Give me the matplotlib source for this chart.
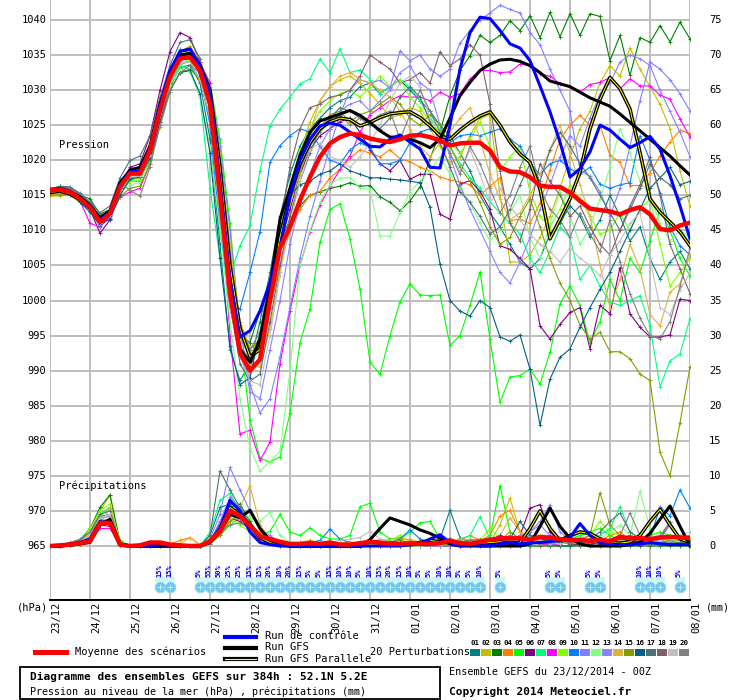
import matplotlib
matplotlib.use('Agg')
import matplotlib.pyplot as plt
from matplotlib.patches import Rectangle

plt.rcParams['font.family'] = ['DejaVu Sans Mono', 'DejaVu Sans']

# ---- axes labels ----
dates = ['23/12', '24/12', '25/12', '26/12', '27/12', '28/12', '29/12', '30/12', '31/12',
         '01/01', '02/01', '03/01', '04/01', '05/01', '06/01', '07/01', '08/01']
pres_ticks = [965, 970, 975, 980, 985, 990, 995, 1000, 1005, 1010, 1015, 1020, 1025, 1030, 1035, 1040]
rr_ticks = [0, 5, 10, 15, 20, 25, 30, 35, 40, 45, 50, 55, 60, 65, 70, 75]

# ---- pression (hPa), pas de 6h, 65 echeances ----
moyenne = [1015.7, 1015.8, 1015.5, 1014.5, 1013.3, 1011.2, 1012.4, 1016.2, 1018.1, 1018.1, 1021.4, 1027.1, 1031.9,
           1034.5, 1034.7, 1032.8, 1028.0, 1015.0, 1001.0, 992.5, 990.0, 991.6, 1000.0, 1007.5, 1010.5, 1014.3,
           1017.6, 1020.5, 1022.4, 1023.3, 1023.8, 1023.6, 1023.1, 1022.8, 1022.6, 1023.0, 1023.5, 1023.6, 1023.3,
           1022.8, 1022.1, 1022.4, 1022.5, 1022.5, 1021.4, 1019.0, 1018.4, 1018.3, 1017.6, 1016.4, 1016.2, 1016.2,
           1015.4, 1014.2, 1013.1, 1012.9, 1012.7, 1012.3, 1012.9, 1013.3, 1012.3, 1010.2, 1010.0, 1010.7, 1011.1]
controle = [1015.8, 1016.0, 1015.6, 1014.6, 1013.5, 1011.5, 1012.6, 1016.5, 1018.4, 1018.4, 1021.8, 1027.8, 1032.8,
            1035.5, 1035.9, 1033.5, 1029.5, 1017.0, 1003.0, 994.8, 995.7, 998.5, 1002.6, 1007.5, 1015.0, 1020.0,
            1023.0, 1024.9, 1025.3, 1025.0, 1024.0, 1023.0, 1022.0, 1021.9, 1023.0, 1023.6, 1022.6, 1021.6, 1019.0,
            1018.9, 1025.0, 1033.0, 1038.2, 1040.4, 1040.2, 1038.5, 1036.6, 1036.0, 1034.2, 1030.6, 1026.9, 1022.6,
            1017.6, 1018.8, 1021.2, 1025.0, 1024.3, 1023.0, 1021.8, 1022.5, 1023.4, 1021.6, 1017.8, 1013.5, 1008.8]
gfs = [1015.6, 1015.8, 1015.5, 1014.8, 1013.6, 1011.8, 1012.8, 1016.8, 1018.6, 1019.0, 1022.0, 1028.0, 1032.5,
       1035.0, 1035.2, 1033.0, 1029.0, 1016.0, 1001.0, 993.0, 991.2, 994.5, 1002.0, 1011.6, 1016.0, 1020.7,
       1024.0, 1025.6, 1026.1, 1026.6, 1027.1, 1026.4, 1025.4, 1024.2, 1023.3, 1023.3, 1023.0, 1022.5, 1021.8,
       1023.0, 1026.0, 1029.2, 1031.1, 1032.8, 1033.7, 1034.3, 1034.4, 1034.1, 1033.5, 1032.5, 1031.3, 1030.9,
       1030.5, 1029.7, 1028.9, 1028.3, 1027.7, 1026.6, 1025.4, 1024.2, 1023.0, 1021.8, 1020.6, 1019.2, 1017.9]
gfs_para = [1015.4, 1015.6, 1015.2, 1014.4, 1013.2, 1011.4, 1012.6, 1016.3, 1018.5, 1018.8, 1021.6, 1027.5, 1032.3,
            1035.3, 1035.5, 1033.5, 1030.0, 1019.0, 1005.0, 996.0, 992.0, 993.0, 1001.0, 1009.0, 1015.0, 1019.5,
            1022.5, 1024.5, 1025.5, 1026.0, 1025.8, 1024.9, 1025.4, 1026.1, 1026.6, 1026.8, 1026.9, 1026.1, 1024.9,
            1023.5, 1023.0, 1024.3, 1025.4, 1026.3, 1026.9, 1025.0, 1022.6, 1020.9, 1019.7, 1015.9, 1008.8, 1011.6,
            1014.5, 1018.3, 1024.5, 1028.7, 1031.8, 1030.2, 1027.3, 1021.1, 1014.5, 1012.6, 1011.2, 1009.8, 1007.8]

p01 = [1015.5, 1015.9, 1015.6, 1014.2, 1012.8, 1010.6, 1011.8, 1015.2, 1017.5, 1017.8, 1020.6, 1026.0, 1030.5,
       1033.2, 1033.6, 1031.0, 1023.0, 1008.0, 993.0, 988.6, 991.0, 997.0, 1004.0, 1012.0, 1018.0, 1022.0,
       1024.5, 1026.0, 1027.5, 1028.5, 1029.0, 1030.5, 1031.0, 1029.5, 1030.5, 1031.5, 1030.0, 1028.5, 1027.0,
       1025.0, 1023.5, 1021.0, 1018.5, 1015.0, 1012.5, 1010.5, 1008.0, 1005.5, 1004.5, 1006.0, 1009.5, 1011.0,
       1013.5, 1012.0, 1009.0, 1011.5, 1015.0, 1012.0, 1008.5, 1010.5, 1006.0, 1003.0, 1005.5, 1007.0, 1004.5]
p02 = [1014.9, 1014.9, 1015.2, 1014.6, 1013.8, 1012.0, 1012.6, 1015.8, 1017.2, 1017.5, 1021.0, 1027.5, 1032.5,
       1035.5, 1036.3, 1034.0, 1029.5, 1018.0, 1004.0, 996.0, 992.5, 993.5, 1002.5, 1010.0, 1016.0, 1021.0,
       1025.5, 1028.5, 1030.5, 1031.5, 1032.0, 1031.0, 1029.5, 1028.0, 1026.0, 1026.5, 1027.5, 1027.0, 1024.5,
       1022.0, 1019.5, 1020.5, 1023.5, 1026.0, 1026.5, 1015.0, 1005.5, 1005.5, 1006.5, 1009.0, 1012.0, 1016.0,
       1020.5, 1024.5, 1027.0, 1031.0, 1033.5, 1032.0, 1036.0, 1033.0, 1030.5, 1028.0, 1024.5, 1018.5, 1013.5]
p03 = [1015.9, 1016.1, 1015.9, 1015.0, 1014.5, 1012.3, 1013.0, 1016.5, 1018.5, 1018.3, 1021.5, 1026.8, 1031.2,
       1033.8, 1034.0, 1031.5, 1026.0, 1012.0, 1000.0, 995.0, 994.0, 998.5, 1003.0, 1008.5, 1011.5, 1013.5,
       1015.0, 1015.5, 1016.0, 1016.3, 1016.8, 1016.3, 1016.4, 1014.8, 1014.0, 1012.8, 1014.2, 1016.2, 1020.2,
       1024.0, 1029.2, 1032.8, 1034.9, 1037.8, 1036.8, 1037.8, 1039.9, 1038.5, 1040.6, 1037.5, 1041.1, 1037.6,
       1040.9, 1037.8, 1040.9, 1040.5, 1034.2, 1037.8, 1032.1, 1037.5, 1036.8, 1039.2, 1036.9, 1039.7, 1037.3]
p04 = [1015.4, 1015.6, 1015.3, 1014.4, 1013.5, 1011.5, 1012.8, 1016.6, 1018.8, 1019.0, 1022.5, 1028.3, 1032.8,
       1035.0, 1035.1, 1033.0, 1029.0, 1020.0, 1006.0, 997.0, 993.0, 994.5, 999.0, 1005.0, 1010.0, 1013.0,
       1015.0, 1015.6, 1017.5, 1018.7, 1020.3, 1021.5, 1021.0, 1020.5, 1021.5, 1020.2, 1019.8, 1019.0, 1018.5,
       1017.6, 1017.2, 1016.9, 1016.5, 1015.0, 1016.3, 1017.5, 1011.4, 1011.6, 1011.0, 1013.9, 1018.6, 1023.0,
       1025.0, 1026.4, 1025.0, 1025.0, 1020.7, 1019.7, 1016.4, 1016.4, 1018.2, 1020.6, 1022.6, 1024.3, 1023.8]
p05 = [1015.5, 1015.4, 1015.0, 1014.0, 1013.0, 1011.0, 1012.0, 1015.5, 1017.0, 1017.0, 1020.0, 1025.5, 1030.5,
       1033.5, 1034.5, 1033.5, 1031.0, 1023.0, 1011.0, 995.0, 983.0, 977.5, 977.0, 977.7, 984.0, 994.0,
       998.8, 1008.3, 1013.0, 1013.8, 1008.8, 1001.6, 991.2, 989.5, 995.0, 999.8, 1002.4, 1000.8, 1000.7,
       1000.8, 993.6, 995.0, 999.3, 1004.1, 994.5, 985.5, 989.1, 989.3, 990.2, 988.1, 992.6, 999.5,
       1002.1, 999.3, 994.0, 997.0, 1003.0, 1000.0, 1006.0, 1004.0, 1008.5, 1013.0, 1010.0, 1006.0, 1003.5]
p06 = [1016.0, 1016.2, 1016.0, 1015.0, 1013.0, 1009.6, 1011.5, 1015.8, 1019.0, 1019.5, 1023.5, 1030.0, 1035.5,
       1038.2, 1037.5, 1034.0, 1028.0, 1013.0, 999.0, 992.0, 990.5, 994.0, 1001.0, 1008.0, 1013.0, 1018.0,
       1021.5, 1023.5, 1024.5, 1025.5, 1026.0, 1024.0, 1021.5, 1019.5, 1018.5, 1020.0, 1017.3, 1018.0, 1018.0,
       1012.3, 1011.6, 1016.6, 1017.1, 1015.6, 1013.0, 1007.8, 1007.3, 1006.0, 1004.5, 996.4, 994.5, 996.6,
       998.3, 999.0, 993.1, 999.3, 998.1, 1004.7, 998.1, 996.2, 994.8, 994.8, 995.1, 1000.2, 1000.0]
p07 = [1015.6, 1015.9, 1015.8, 1014.6, 1013.0, 1011.3, 1012.2, 1015.8, 1017.6, 1018.0, 1021.0, 1026.5, 1031.0,
       1033.5, 1033.0, 1029.0, 1016.0, 1006.0, 1003.5, 1007.8, 1010.7, 1018.5, 1024.9, 1027.3, 1029.0, 1030.9,
       1031.6, 1034.4, 1032.5, 1035.9, 1032.5, 1032.9, 1031.5, 1029.5, 1030.5, 1031.5, 1030.4, 1028.5, 1026.0,
       1024.5, 1022.0, 1019.5, 1017.5, 1016.0, 1014.0, 1012.5, 1011.0, 1009.5, 1006.0, 1004.0, 1007.0, 1010.5,
       1009.0, 1003.0, 1005.0, 1002.0, 999.8, 999.3, 1000.0, 1000.7, 996.4, 987.7, 991.4, 992.4, 997.4]
p08 = [1015.5, 1015.7, 1015.3, 1014.2, 1011.0, 1010.5, 1012.0, 1014.7, 1015.5, 1016.0, 1019.5, 1025.5, 1031.0,
       1034.5, 1035.5, 1034.0, 1031.0, 1016.0, 995.0, 981.0, 981.5, 977.2, 979.8, 991.0, 998.5, 1005.0,
       1009.8, 1013.6, 1016.3, 1018.7, 1020.6, 1024.0, 1026.5, 1027.5, 1028.5, 1029.2, 1029.0, 1029.0, 1028.5,
       1029.7, 1029.0, 1029.5, 1031.6, 1032.8, 1032.8, 1032.5, 1032.6, 1033.7, 1033.5, 1032.3, 1032.0, 1030.9,
       1030.5, 1029.7, 1030.8, 1031.1, 1031.8, 1030.2, 1031.6, 1030.6, 1030.6, 1029.3, 1028.7, 1025.9, 1023.3]
p09 = [1015.3, 1015.5, 1015.4, 1014.7, 1013.8, 1012.0, 1012.9, 1016.0, 1017.0, 1017.2, 1020.8, 1027.0, 1031.5,
       1033.8, 1034.2, 1032.5, 1028.5, 1017.0, 1002.5, 994.5, 992.0, 995.0, 1003.0, 1010.0, 1016.5, 1021.5,
       1024.5, 1027.0, 1028.5, 1029.5, 1030.0, 1029.0, 1030.5, 1032.0, 1030.5, 1031.5, 1029.0, 1027.5, 1025.5,
       1024.0, 1022.5, 1021.0, 1023.0, 1025.5, 1022.0, 1018.5, 1020.5, 1022.0, 1015.5, 1012.0, 1010.5, 1013.0,
       1016.5, 1014.5, 1012.0, 1009.5, 1010.0, 1012.5, 1010.0, 1013.0, 1014.5, 1008.0, 1002.0, 1004.0, 1006.0]
p10 = [1015.8, 1016.3, 1016.0, 1015.2, 1013.8, 1011.6, 1012.6, 1016.0, 1018.6, 1018.7, 1022.0, 1028.0, 1032.8,
       1035.8, 1035.5, 1032.0, 1025.0, 1010.0, 1000.0, 998.8, 1004.0, 1009.8, 1019.7, 1022.1, 1023.5, 1024.5,
       1024.0, 1022.0, 1020.0, 1019.5, 1021.5, 1022.5, 1021.8, 1019.5, 1019.5, 1020.0, 1022.5, 1024.0, 1024.5,
       1023.5, 1022.5, 1023.5, 1023.7, 1023.5, 1024.0, 1024.5, 1023.0, 1022.0, 1019.5, 1018.0, 1019.5, 1020.0,
       1018.8, 1018.0, 1019.0, 1016.6, 1016.0, 1016.5, 1016.8, 1023.5, 1020.0, 1015.4, 1010.5, 1007.8, 1006.5]
p11 = [1015.6, 1016.0, 1015.7, 1014.8, 1013.4, 1011.0, 1012.3, 1016.4, 1018.3, 1018.5, 1021.7, 1027.4, 1032.1,
       1034.8, 1035.0, 1033.5, 1030.5, 1022.0, 1010.0, 996.0, 988.0, 984.0, 986.0, 992.0, 999.0, 1006.0,
       1012.0, 1017.0, 1022.0, 1026.5, 1030.0, 1031.5, 1031.0, 1031.4, 1030.3, 1035.6, 1034.2, 1035.0, 1033.0,
       1032.0, 1033.0, 1036.7, 1038.5, 1040.0, 1041.0, 1042.1, 1041.5, 1041.0, 1038.2, 1036.5, 1033.0, 1030.0,
       1027.0, 1018.6, 1017.7, 1015.5, 1012.0, 1016.0, 1022.0, 1028.5, 1034.0, 1033.0, 1031.5, 1029.5, 1027.0]
p12 = [1015.2, 1015.3, 1015.0, 1014.1, 1012.9, 1011.0, 1012.3, 1015.5, 1016.5, 1016.8, 1020.5, 1026.3, 1030.8,
       1033.0, 1032.5, 1029.0, 1022.0, 1010.0, 997.0, 986.0, 979.0, 975.7, 977.0, 978.5, 990.0, 1005.0,
       1010.0, 1014.0, 1016.5, 1017.5, 1017.5, 1016.0, 1015.9, 1009.2, 1009.2, 1012.5, 1015.5, 1017.0, 1018.5,
       1020.5, 1018.0, 1016.0, 1014.0, 1011.0, 1008.5, 1010.0, 1012.5, 1015.0, 1009.0, 1006.0, 1011.0, 1015.5,
       1012.0, 1008.0, 1010.5, 1014.5, 1019.0, 1024.5, 1021.0, 1017.0, 1015.0, 1011.0, 1008.5, 1010.0, 1009.0]
p13 = [1015.7, 1015.9, 1015.6, 1014.6, 1013.2, 1010.8, 1012.0, 1016.0, 1017.9, 1018.0, 1021.2, 1026.8, 1031.6,
       1034.2, 1034.8, 1033.0, 1029.0, 1020.0, 1008.0, 994.0, 987.0, 986.0, 993.0, 1000.0, 1008.0, 1014.0,
       1018.0, 1022.0, 1024.5, 1027.0, 1028.0, 1028.5, 1027.0, 1028.5, 1030.0, 1032.5, 1033.5, 1031.0, 1030.0,
       1025.0, 1020.5, 1016.5, 1013.0, 1010.0, 1007.0, 1004.0, 1002.5, 1005.5, 1009.0, 1013.0, 1016.5, 1020.5,
       1023.5, 1022.0, 1026.0, 1029.5, 1031.0, 1034.0, 1035.0, 1034.5, 1033.5, 1030.0, 1027.0, 1024.0, 1020.5]
p14 = [1015.1, 1015.2, 1015.1, 1014.3, 1013.2, 1011.6, 1012.8, 1016.4, 1018.4, 1018.6, 1021.8, 1027.6, 1032.2,
       1035.0, 1036.0, 1034.5, 1030.0, 1021.0, 1008.0, 997.0, 991.0, 990.5, 996.0, 1004.0, 1012.0, 1018.0,
       1024.0, 1028.5, 1030.5, 1032.0, 1032.5, 1031.5, 1031.0, 1030.0, 1029.0, 1027.0, 1024.5, 1022.0, 1020.5,
       1022.5, 1024.0, 1026.0, 1027.5, 1023.0, 1018.0, 1014.5, 1011.5, 1012.5, 1015.0, 1018.0, 1021.5, 1025.0,
       1021.0, 1016.5, 1012.0, 1005.0, 999.0, 1003.0, 1008.0, 1004.5, 998.0, 996.4, 1001.2, 1002.4, 1006.6]
p15 = [1015.0, 1015.1, 1015.0, 1014.2, 1013.6, 1011.7, 1012.2, 1014.8, 1016.0, 1016.3, 1019.5, 1024.8, 1029.8,
       1032.5, 1033.0, 1031.5, 1027.5, 1018.0, 1005.0, 996.5, 993.0, 994.5, 1001.5, 1008.5, 1014.0, 1018.5,
       1022.0, 1024.5, 1026.5, 1027.0, 1025.5, 1026.5, 1027.0, 1028.0, 1029.0, 1028.0, 1026.0, 1025.0, 1026.5,
       1025.0, 1022.0, 1019.0, 1017.0, 1014.0, 1010.5, 1008.0, 1009.0, 1012.0, 1014.5, 1010.5, 1006.0, 1002.5,
       1000.0, 996.5, 994.5, 995.5, 992.7, 992.7, 991.7, 989.5, 988.6, 978.4, 975.0, 982.6, 990.5]
p16 = [1015.4, 1015.8, 1015.5, 1014.0, 1012.6, 1010.9, 1011.6, 1015.0, 1017.3, 1017.6, 1020.3, 1025.5, 1030.0,
       1032.5, 1032.8, 1029.5, 1021.0, 1006.0, 993.5, 988.0, 989.0, 995.5, 1003.0, 1010.0, 1015.0, 1016.5,
       1017.0, 1018.0, 1018.5, 1019.5, 1018.5, 1018.0, 1017.5, 1017.5, 1017.3, 1017.2, 1017.0, 1016.8, 1013.3,
       1005.2, 1000.0, 998.5, 997.8, 1000.0, 999.0, 994.8, 994.2, 995.1, 990.2, 982.2, 988.8, 991.9,
       993.1, 996.2, 999.0, 1001.6, 1004.0, 1007.0, 1010.0, 1013.0, 1016.0, 1017.5, 1019.0, 1016.5, 1017.0]
p17 = [1015.9, 1016.3, 1016.2, 1015.3, 1014.0, 1012.5, 1013.5, 1017.5, 1020.0, 1020.6, 1023.5, 1029.0, 1033.5,
       1036.8, 1037.2, 1034.5, 1027.0, 1013.0, 1000.0, 991.0, 988.5, 989.5, 997.0, 1005.0, 1012.0, 1017.0,
       1021.0, 1024.5, 1026.0, 1027.5, 1027.0, 1026.0, 1025.0, 1024.5, 1026.0, 1029.0, 1030.5, 1029.0, 1025.5,
       1022.5, 1019.0, 1015.5, 1014.0, 1012.0, 1009.5, 1010.5, 1013.0, 1016.5, 1019.5, 1017.0, 1021.5, 1024.0,
       1022.0, 1019.5, 1017.5, 1015.0, 1012.5, 1010.0, 1013.0, 1016.0, 1019.5, 1017.5, 1016.5, 1014.5, 1015.0]
p18 = [1015.6, 1015.7, 1015.5, 1014.5, 1013.1, 1011.2, 1012.5, 1016.1, 1018.0, 1018.4, 1021.6, 1027.3, 1032.0,
       1034.6, 1034.6, 1032.5, 1028.0, 1016.0, 1001.0, 993.5, 991.5, 994.0, 1002.0, 1011.0, 1019.0, 1024.5,
       1027.5, 1028.0, 1029.0, 1029.3, 1030.0, 1032.0, 1035.0, 1034.0, 1033.0, 1031.0, 1031.5, 1032.5, 1031.0,
       1035.5, 1033.5, 1034.5, 1036.5, 1035.0, 1028.0, 1018.5, 1011.0, 1008.5, 1013.0, 1019.5, 1017.0, 1015.0,
       1012.0, 1013.5, 1010.5, 1008.0, 1006.5, 1010.0, 1013.5, 1016.5, 1020.5, 1015.0, 1008.0, 1004.5, 1001.0]
p19 = [1015.5, 1015.6, 1015.5, 1014.4, 1013.0, 1011.0, 1012.2, 1015.8, 1017.7, 1017.7, 1020.8, 1026.6, 1031.3,
       1033.9, 1034.0, 1031.5, 1026.0, 1012.0, 999.0, 992.0, 988.5, 988.0, 995.0, 1003.5, 1011.0, 1017.0,
       1021.5, 1022.5, 1020.5, 1020.0, 1019.0, 1020.5, 1022.5, 1025.0, 1028.5, 1031.0, 1032.0, 1030.5, 1026.0,
       1023.0, 1021.0, 1018.5, 1021.5, 1018.0, 1014.0, 1016.0, 1013.5, 1011.5, 1009.5, 1008.0, 1007.0, 1005.5,
       1007.5, 1006.0, 1005.0, 1003.5, 1006.5, 1008.5, 1011.0, 1012.5, 1006.0, 999.0, 998.0, 1001.5, 1004.0]
p20 = [1015.7, 1016.1, 1015.9, 1015.1, 1013.9, 1011.8, 1012.9, 1016.8, 1015.7, 1014.9, 1019.0, 1025.0, 1030.0,
       1032.5, 1033.5, 1032.5, 1028.5, 1018.0, 1003.5, 995.5, 993.0, 995.5, 1003.5, 1010.0, 1015.0, 1019.0,
       1022.0, 1024.0, 1025.5, 1026.5, 1025.0, 1026.0, 1025.5, 1026.5, 1027.0, 1023.0, 1026.5, 1030.0, 1027.0,
       1024.0, 1021.0, 1018.0, 1022.0, 1019.5, 1016.0, 1012.5, 1015.0, 1019.0, 1022.0, 1016.0, 1013.0, 1011.5,
       1009.0, 1012.5, 1009.5, 1007.0, 1011.5, 1005.5, 1001.0, 997.5, 995.0, 994.5, 997.0, 1002.0, 1007.5]

# ---- precipitations (mm / 6h) ----
rr_moyenne = [0, 0.1, 0.2, 0.4, 0.7, 3.3, 3.3, 0.2, 0, 0.1, 0.5, 0.5, 0.2,
              0.1, 0, 0, 0.7, 2.1, 5.0, 4.3, 2.9, 1.4, 1.0, 0.6, 0.3, 0.3,
              0.4, 0.3, 0.5, 0.2, 0.2, 0.4, 0.6, 0.5, 0.3, 0.3, 0.4, 0.3, 0.3,
              0.4, 0.8, 0.4, 0.3, 0.6, 0.9, 1.1, 1.1, 1.1, 0.9, 1.3, 1.2, 1.0,
              0.8, 0.9, 0.7, 0.9, 0.7, 1.3, 1.1, 1.1, 1.0, 1.2, 1.3, 1.2, 1.2]
rr_controle = [0, 0, 0.3, 0.5, 1.0, 3.5, 3.2, 0.3, 0, 0, 0, 0.2, 0.1,
               0, 0, 0, 0.5, 2.5, 6.5, 5.0, 2.0, 0.5, 0.2, 0, 0, 0,
               0, 0, 0, 0, 0, 0, 0, 0, 0, 0, 0.2, 0.3, 1.0,
               1.6, 0.5, 0, 0.2, 0, 0, 0.3, 0.5, 0.3, 0.4, 0.5, 0.6, 0.8,
               1.2, 3.2, 1.5, 0.5, 0.3, 0.2, 0.2, 0.3, 0.5, 0.3, 0.2, 0.2, 0.2]
rr_gfs = [0, 0, 0.1, 0.3, 0.5, 3.0, 3.8, 0.3, 0, 0, 0, 0, 0,
          0, 0, 0, 0.5, 2.0, 4.5, 4.0, 5.1, 2.5, 0.8, 0.3, 0, 0,
          0, 0, 0, 0, 0, 0, 0.9, 2.5, 4.0, 3.5, 3.0, 2.3, 1.8,
          1.1, 0.3, 0, 0, 0, 0, 0, 0, 0, 0.3, 2.8, 5.4, 2.8,
          1.1, 0.3, 0, 0, 0, 0, 0.2, 0.5, 1.8, 3.8, 5.7, 2.8, 0]
rr_gfs_para = [0, 0, 0.2, 0.4, 0.8, 3.2, 3.5, 0.2, 0, 0, 0, 0, 0,
               0, 0, 0, 0.6, 2.2, 5.5, 4.5, 3.0, 1.2, 0.5, 0.2, 0, 0,
               0, 0, 0, 0, 0, 0, 0.2, 0.3, 0.4, 0.3, 0.2, 0.5, 0.8,
               0.6, 0.5, 0.3, 0.2, 0.4, 0.5, 0.6, 0.4, 0.5, 2.5, 5.0, 2.5, 0.8,
               1.5, 2.0, 1.8, 1.0, 0.5, 0.4, 0.6, 1.5, 3.5, 5.2, 3.0, 1.0, 0.5]

r01 = [0, 0, 0.2, 0.5, 1.5, 4.2, 4.5, 0.6, 0, 0, 0.2, 0.3, 0.1,
       0, 0, 0, 1.5, 5.5, 6.0, 4.0, 2.5, 1.0, 0.5, 0.2, 0, 0,
       0, 0.2, 0.3, 0, 0, 0, 0, 0, 0.3, 0.5, 0, 0, 0.2,
       1.0, 5.1, 1.2, 0.5, 0.3, 0, 0, 0, 0.5, 0.8, 0.3, 0.2, 0,
       0, 0.3, 0.5, 0.8, 0.5, 0.3, 1.0, 0.5, 0.3, 0.2, 0.5, 0.3, 0.2]
r02 = [0, 0, 0.1, 0.3, 2.0, 5.0, 7.2, 0.8, 0, 0, 0, 0, 0,
       0, 0, 0, 0.3, 2.5, 6.5, 5.5, 3.0, 1.5, 0.5, 0, 0, 0.3,
       0.5, 0.3, 0, 0, 0, 0.2, 0.5, 0.3, 0.2, 0.5, 0.3, 0, 0,
       0, 0.3, 0.5, 0.2, 0, 0.5, 3.0, 6.8, 2.0, 0.5, 0.3, 0.2, 0.5,
       0.3, 0.5, 0.8, 1.0, 0.5, 0.3, 0.2, 0.5, 0.3, 0.5, 0.3, 0.2, 0.5]
r03 = [0, 0, 0.3, 0.8, 2.5, 5.5, 7.3, 0.5, 0, 0, 0, 0.1, 0,
       0, 0, 0, 0.8, 3.0, 5.5, 6.0, 3.5, 1.5, 0.6, 0.2, 0, 0,
       0, 0, 0, 0, 0, 0, 0, 0, 0.2, 0.4, 0.2, 0, 0,
       0, 0, 0, 0, 0.3, 0.5, 0.2, 0, 0, 0, 0, 0, 0,
       0, 0, 0, 0, 0, 0, 0, 0, 0, 0, 0, 0, 0]
r04 = [0, 0, 0.2, 0.4, 1.2, 3.5, 3.0, 0.3, 0, 0, 0, 0.5, 0.3,
       0.8, 1.2, 0.2, 0.5, 1.5, 3.5, 4.5, 3.0, 2.0, 0.8, 0.3, 0.2, 0.5,
       0.8, 0.5, 0.3, 0.5, 0.6, 0.3, 0.2, 0.5, 1.0, 1.2, 0.8, 0.5, 0.5,
       0.3, 0.5, 0.8, 1.5, 0.8, 1.5, 4.3, 5.1, 2.0, 0.5, 0.8, 1.5, 0.5,
       0.3, 0.5, 1.0, 0.8, 1.5, 2.0, 0.8, 0.5, 0.8, 1.0, 0.5, 0.8, 0.5]
r05 = [0, 0, 0.2, 0.5, 1.5, 4.5, 5.5, 0.8, 0, 0, 0.2, 0, 0,
       0, 0.2, 0.3, 0.5, 1.5, 3.0, 4.0, 2.5, 1.5, 2.1, 4.5, 2.0, 1.5,
       2.6, 1.5, 1.0, 1.0, 1.5, 5.6, 6.1, 2.0, 1.0, 1.0, 2.0, 3.3, 3.5,
       1.0, 0.5, 0.5, 0.3, 0.8, 1.2, 8.6, 2.0, 1.0, 0.5, 0.5, 0.8, 0.3,
       1.0, 1.5, 2.0, 2.5, 1.5, 0.8, 0.5, 1.0, 1.5, 2.0, 1.5, 1.0, 0.8]
r06 = [0, 0, 0.1, 0.3, 1.0, 3.0, 2.8, 0.2, 0, 0, 0, 0, 0,
       0, 0, 0, 0.3, 2.0, 4.0, 3.5, 2.5, 1.0, 0.5, 0, 0, 0,
       0, 0, 0, 0, 0, 0, 0, 0, 0, 0, 0, 0.2, 0.5,
       0.3, 0, 0, 0, 0.2, 0.5, 0.8, 1.0, 1.5, 5.4, 5.9, 2.0, 0.5,
       0.3, 0.2, 0.5, 0.3, 0.2, 0.5, 0.3, 0.2, 0.3, 0.5, 0.3, 0.2, 0.3]
r07 = [0, 0, 0.2, 0.4, 1.0, 3.2, 3.0, 0.3, 0, 0, 0, 0, 0,
       0, 0, 0, 2.0, 6.5, 7.5, 5.0, 2.5, 1.0, 0.5, 0.2, 0, 0,
       0, 0.3, 0.5, 0.3, 0, 0, 0, 0, 0, 0.2, 0.5, 0.3, 0.5,
       0.8, 0.5, 1.0, 1.5, 4.2, 1.0, 0.5, 0.3, 0.8, 1.0, 0.5, 0.3, 0.5,
       1.0, 0.5, 0.8, 1.5, 2.5, 5.6, 2.0, 1.0, 0.5, 0.3, 0.5, 1.0, 0.8]
r08 = [0, 0, 0.1, 0.3, 0.8, 2.5, 2.5, 0.2, 0, 0, 0, 0, 0,
       0, 0, 0, 0.5, 3.5, 5.5, 4.5, 3.0, 1.0, 0.8, 0.5, 0.3, 0,
       0, 0, 0, 0, 0, 0, 0, 0.3, 0, 0, 0, 0, 0.2,
       0.3, 0, 0.2, 0.3, 0, 0.5, 0.3, 0, 0.2, 0.5, 0.3, 0.2, 0.3,
       0.5, 0.3, 0.2, 0.5, 0.3, 0.2, 0.5, 0.3, 0.8, 0.5, 0.3, 0.2, 0.3]
r09 = [0, 0, 0.2, 0.5, 2.5, 5.0, 6.0, 0.6, 0, 0, 0, 0, 0,
       0, 0, 0, 0.5, 2.0, 4.0, 3.0, 2.0, 0.8, 0.5, 0.2, 0, 0,
       0, 0, 0.2, 0.5, 0.3, 0.2, 0.5, 1.0, 0.8, 1.5, 0.5, 0.3, 0.5,
       0.8, 0.5, 0.3, 0.5, 0.8, 2.5, 1.0, 0.5, 0.3, 0.8, 1.5, 0.8, 0.5,
       1.0, 2.0, 1.5, 3.5, 2.0, 1.5, 1.0, 0.8, 0.5, 1.0, 0.5, 0.8, 1.0]
r10 = [0, 0, 0.2, 0.4, 1.2, 3.8, 3.5, 0.3, 0, 0, 0, 0, 0,
       0, 0, 0, 0.3, 1.8, 4.5, 5.5, 3.0, 1.5, 0.8, 0.5, 0.3, 0.2,
       0.5, 0.8, 2.4, 1.0, 0.5, 0.3, 0.2, 0.3, 0.5, 1.0, 2.3, 1.0, 0.5,
       0.3, 0.2, 0.5, 0.3, 0.5, 0.8, 0.5, 0.3, 0.5, 0.8, 0.5, 0.3, 0.5,
       0.8, 0.5, 1.0, 0.8, 0.5, 1.0, 1.5, 0.8, 1.0, 5.6, 4.3, 8.0, 5.4]
r11 = [0, 0, 0.2, 0.5, 1.5, 4.0, 4.2, 0.4, 0, 0, 0, 0, 0,
       0, 0, 0, 1.0, 4.5, 11.2, 8.0, 5.0, 2.5, 1.5, 0.5, 0.2, 0,
       0, 0, 0, 0.2, 0, 0, 0, 0, 0.3, 0.5, 0.2, 0, 0,
       0, 0.3, 0.2, 0, 0.3, 0.5, 0.8, 0.5, 1.0, 2.0, 3.5, 5.9, 2.0,
       0.8, 0.5, 0.3, 0.5, 1.0, 0.5, 0.3, 0.5, 0.8, 1.0, 3.0, 0.8, 0.5]
r12 = [0, 0, 0.2, 0.5, 1.5, 4.0, 3.5, 0.3, 0, 0, 0, 0, 0,
       0, 0, 0, 0.3, 2.0, 4.5, 5.0, 4.0, 3.5, 4.8, 1.5, 0.5, 0.3,
       0.2, 0, 0, 0, 0, 0, 0, 0, 0.2, 0.3, 0, 0, 0.2,
       0.3, 0.5, 0.2, 0.3, 0.5, 0.3, 0.5, 0.8, 0.5, 0.3, 0.5, 0.3, 0.5,
       0.3, 0.5, 0.8, 1.0, 2.0, 3.0, 1.5, 7.8, 2.5, 1.0, 0.8, 0.5, 0.3]
r13 = [0, 0, 0.1, 0.3, 1.0, 3.5, 3.2, 0.2, 0, 0, 0, 0, 0,
       0, 0, 0, 0.5, 3.5, 7.0, 5.5, 3.0, 1.5, 0.5, 0.3, 0, 0,
       0, 0, 0, 0, 0.2, 0, 0, 0, 0, 0.3, 0.5, 0.3, 0,
       0, 0, 0.2, 0.3, 0.5, 0.8, 1.0, 0.8, 1.5, 2.0, 3.0, 1.5, 0.8,
       0.5, 0.3, 0.5, 0.8, 0.5, 0.3, 0.5, 0.8, 1.0, 0.8, 0.5, 0.3, 0.5]
r14 = [0, 0, 0.1, 0.2, 1.0, 3.0, 5.5, 0.5, 0, 0, 0, 0, 0,
       0.3, 1.2, 0.2, 0.5, 1.5, 4.0, 5.5, 8.6, 3.0, 1.0, 0.3, 0, 0,
       0, 0, 0, 0.3, 0.5, 0.3, 0, 0.2, 0.5, 0.8, 1.0, 0.5, 0.3,
       0.2, 0.5, 0.8, 1.0, 0.5, 0.8, 1.5, 4.0, 2.0, 1.0, 0.5, 0.8, 0.5,
       0.3, 0.8, 1.5, 1.0, 0.5, 0.8, 1.0, 0.5, 0.3, 0.5, 0.8, 0.5, 0.3]
r15 = [0, 0, 0.2, 0.4, 1.0, 3.0, 3.5, 0.3, 0, 0, 0, 0, 0,
       0, 0, 0, 0.3, 1.5, 3.5, 4.5, 2.5, 1.0, 0.5, 0.2, 0, 0,
       0, 0, 0, 0, 0, 0, 0.2, 0.3, 0.5, 0.8, 0.5, 0.3, 0.5,
       0.3, 0.2, 0.5, 0.8, 1.0, 0.5, 0.8, 2.0, 1.0, 0.5, 0.8, 1.0, 0.5,
       0.8, 1.0, 1.5, 7.6, 3.0, 1.5, 1.0, 0.5, 0.3, 0.5, 0.8, 0.3, 0.2]
r16 = [0, 0, 0.2, 0.5, 1.2, 3.5, 3.8, 0.3, 0, 0, 0, 0, 0,
       0, 0, 0, 0.8, 3.0, 5.0, 4.5, 3.0, 1.5, 0.8, 0.2, 0, 0,
       0, 0, 0, 0, 0, 0, 0, 0, 0.3, 0.5, 0.3, 0.2, 0.5,
       0.8, 1.0, 0.5, 0.3, 0.5, 0.8, 1.5, 1.0, 3.5, 1.5, 1.0, 0.8, 0.5,
       0.3, 0.5, 0.3, 0.5, 0.8, 1.0, 0.8, 0.5, 0.3, 0.5, 0.3, 0.2, 0.3]
r17 = [0, 0, 0.3, 0.8, 2.0, 4.5, 5.0, 0.5, 0, 0, 0, 0, 0,
       0, 0, 0, 1.5, 10.7, 8.0, 5.5, 3.0, 1.5, 0.5, 0.2, 0, 0,
       0, 0, 0, 0, 0, 0, 0, 0, 0, 0.2, 0.5, 0.3, 0.2,
       0.3, 0.5, 0.3, 0.2, 0.5, 0.3, 0.5, 0.8, 1.0, 1.5, 1.0, 0.5, 0.3,
       0.5, 0.8, 1.0, 2.0, 3.5, 4.7, 2.0, 1.0, 0.8, 0.5, 0.3, 0.5, 0.3]
r18 = [0, 0, 0.1, 0.3, 1.0, 3.0, 3.3, 0.2, 0, 0, 0, 0, 0,
       0, 0, 0, 0.5, 2.5, 4.5, 4.0, 2.5, 1.0, 0.5, 0.2, 0, 0,
       0, 0, 0, 0, 0, 0, 0, 0, 0, 0, 0, 0.3, 0.5,
       0.5, 0.3, 0.2, 0.3, 0.5, 0.3, 0.5, 0.8, 0.5, 0.3, 0.5, 1.0, 0.8,
       0.5, 0.3, 0.5, 0.8, 0.5, 1.0, 1.5, 0.8, 0.5, 1.0, 3.4, 1.0, 0.5]
r19 = [0, 0, 0.2, 0.4, 1.5, 4.0, 4.5, 0.4, 0, 0, 0, 0, 0,
       0, 0, 0, 0.5, 2.5, 5.0, 4.0, 3.0, 1.5, 1.0, 0.5, 0.3, 0.2,
       0.3, 0.5, 0.5, 0.8, 1.0, 1.2, 2.1, 1.0, 0.5, 0.3, 0.5, 0.3, 0.2,
       0.3, 0.5, 0.3, 0.2, 0.3, 0.5, 0.8, 0.5, 0.3, 0.5, 0.8, 0.5, 0.3,
       0.5, 0.3, 0.5, 0.8, 0.5, 0.3, 0.8, 1.0, 0.5, 0.8, 1.0, 1.5, 2.0]
r20 = [0, 0.2, 0.5, 1.0, 2.0, 3.5, 3.0, 0.3, 0, 0.2, 0.5, 0.3, 0,
       0, 0, 0, 0.5, 2.0, 3.0, 3.3, 2.5, 1.0, 0.5, 0.2, 0, 0,
       0, 0, 0, 0, 0, 0, 0, 0, 0, 0, 0.3, 0.5, 0.3,
       0.5, 0.3, 0.5, 0.8, 0.5, 0.3, 0.8, 1.5, 0.8, 0.5, 0.3, 0.5, 0.8,
       0.5, 0.8, 1.0, 0.5, 0.8, 1.5, 4.7, 1.5, 0.8, 1.5, 3.4, 1.0, 0.5]

pert_pres = [p01, p02, p03, p04, p05, p06, p07, p08, p09, p10, p11, p12, p13, p14, p15, p16, p17, p18, p19, p20]
pert_rr = [r01, r02, r03, r04, r05, r06, r07, r08, r09, r10, r11, r12, r13, r14, r15, r16, r17, r18, r19, r20]
pert_colors = ['#008080', '#c0c000', '#008000', '#ff8000', '#00ff00', '#800080', '#00ff80', '#ff00ff',
               '#80ff00', '#0080ff', '#8080ff', '#80ff80', '#8c82ff', '#e0b040', '#80a000', '#006080',
               '#507078', '#806070', '#c0c0c0', '#808080']

# ---- neige (probabilite %) ----
snow_idx = [11, 12, 15, 16, 17, 18, 19, 20, 21, 22, 23, 24, 25, 26, 27, 28, 29, 30, 31, 32, 33, 34, 35, 36,
            37, 38, 39, 40, 41, 42, 43, 45, 50, 51, 54, 55, 59, 60, 61, 63]
snow_pct = [15, 15, 5, 55, 50, 25, 25, 15, 15, 20, 10, 20, 15, 5, 5, 15, 10, 10, 5, 10, 15, 20, 15, 10,
            5, 5, 10, 10, 5, 5, 10, 5, 5, 5, 5, 5, 10, 10, 10, 5]

steps = list(range(len(moyenne)))
RR0 = 965.0   # 0 mm sur l'echelle de droite

def rr(vals):
    return [RR0 + v for v in vals]

fig = plt.figure(figsize=(7.4, 7.0), dpi=100)
ax = fig.add_axes([50 / 740, 100 / 700, 640 / 740, 600 / 700])
ax.set_xlim(0, 64)
ax.set_ylim(957.3, 1042.85)
for s in ['top', 'left', 'right']:
    ax.spines[s].set_visible(False)
ax.spines['bottom'].set_linewidth(1.4)
ax.set_xticks([])
ax.set_yticks([])

gcol = '#bebebe'
for v in pres_ticks:
    ax.plot([0, 64], [v, v], color=gcol, lw=1.4, zorder=1)
for k in range(0, 65, 4):
    ax.axvline(k, color=gcol, lw=1.4, zorder=1)

# ticks gauche / droite
for v in pres_ticks:
    ax.text(-0.35, v, str(v), ha='right', va='center', fontsize=7.5, clip_on=False)
for v, m in zip(pres_ticks, rr_ticks):
    ax.text(65.9, v, str(m), ha='left', va='center', fontsize=7.5, clip_on=False)
for k, d in enumerate(dates):
    ax.text(4 * k + 0.65, 957.05, d, rotation=90, ha='center', va='top', fontsize=7.5, clip_on=False)
ax.text(-0.2, 956.2, '(hPa)', ha='right', va='center', fontsize=7.5, clip_on=False)
ax.text(65.6, 956.2, '(mm)', ha='left', va='center', fontsize=7.2, clip_on=False)

ax.text(0.85, 1022.2, 'Pression', ha='left', va='center', fontsize=7.5)
ax.text(0.9, 973.6, 'Précipitations', ha='left', va='center', fontsize=7.5)

# perturbations
for pres, pr, c in zip(pert_pres, pert_rr, pert_colors):
    ax.plot(steps, pres, color=c, lw=0.8, marker='+', ms=3, mew=0.6, zorder=3)
    ax.plot(steps, rr(pr), color=c, lw=0.8, marker='+', ms=3, mew=0.6, zorder=3)

# runs principaux
for vals in [gfs_para, rr(rr_gfs_para)]:
    ax.plot(steps, vals, color='black', lw=2.6, zorder=4)
    ax.plot(steps, vals, color='#ffff00', lw=0.7, zorder=4)
for vals in [gfs, rr(rr_gfs)]:
    ax.plot(steps, vals, color='black', lw=2.2, zorder=5)
for vals in [controle, rr(rr_controle)]:
    ax.plot(steps, vals, color='#0000ff', lw=2.2, zorder=6)
for vals in [moyenne, rr(rr_moyenne)]:
    ax.plot(steps, vals, color='#ff0000', lw=3.2, zorder=7)

# neige
for i, p in zip(snow_idx, snow_pct):
    ax.add_patch(Rectangle((i - 0.5, 959.8), 1.0, 0.72, facecolor='#cdf6fb', edgecolor='none',
                           zorder=2, clip_on=False))
    ax.text(i - 0.1, 960.55, f'{p}%', rotation=90, ha='center', va='bottom', fontsize=5,
            color='#0000ff', fontweight='bold', clip_on=False, zorder=8)
ax.scatter(snow_idx, [959.1] * len(snow_idx), s=70, marker='8', color='#6cc6ee',
           edgecolors='#a8e2fa', linewidths=0.6, zorder=8, clip_on=False)
ax.scatter(snow_idx, [959.1] * len(snow_idx), s=16, marker='+', color='#d8f2ff',
           linewidths=0.6, zorder=9, clip_on=False)

# ---- legende et cartouche (coordonnees en pixels) ----
lay = fig.add_axes([0, 0, 1, 1])
lay.set_xlim(0, 740)
lay.set_ylim(700, 0)
lay.axis('off')

lay.plot([35, 66], [652, 652], color='#ff0000', lw=3.6)
lay.text(75, 652, 'Moyenne des scénarios', va='center', fontsize=7.5)
lay.plot([225, 256], [637, 637], color='#0000ff', lw=3.0)
lay.text(265, 636, 'Run de contrôle', va='center', fontsize=7.5)
lay.plot([225, 256], [648, 648], color='black', lw=3.0)
lay.text(265, 647, 'Run GFS', va='center', fontsize=7.5)
lay.plot([225, 256], [659, 659], color='black', lw=3.0)
lay.plot([225, 256], [659, 659], color='#ffff00', lw=0.8)
lay.text(265, 659, 'Run GFS Parallele', va='center', fontsize=7.5)
lay.text(370, 652, '20 Perturbations', va='center', fontsize=7.5)

for k, c in enumerate(pert_colors):
    x0 = 470 + 11 * k
    lay.add_patch(Rectangle((x0, 649), 9.5, 7, facecolor=c, edgecolor='none'))
    lay.text(x0 + 4.8, 643, f'{k + 1:02d}', ha='center', va='center', fontsize=5.3, fontweight='bold')

lay.add_patch(Rectangle((20, 667), 420, 32, facecolor='none', edgecolor='black', lw=1.3))
lay.text(30, 677, 'Diagramme des ensembles GEFS sur 384h : 52.1N 5.2E', va='center',
         fontsize=8, fontweight='bold')
lay.text(30, 691.5, 'Pression au niveau de la mer (hPa) , précipitations (mm)', va='center', fontsize=7.2)
lay.text(449, 672, 'Ensemble GEFS du 23/12/2014 - 00Z', va='center', fontsize=7.3)
lay.text(449, 691.5, 'Copyright 2014 Meteociel.fr', va='center', fontsize=8, fontweight='bold')

fig.savefig('out.png', dpi=100)
